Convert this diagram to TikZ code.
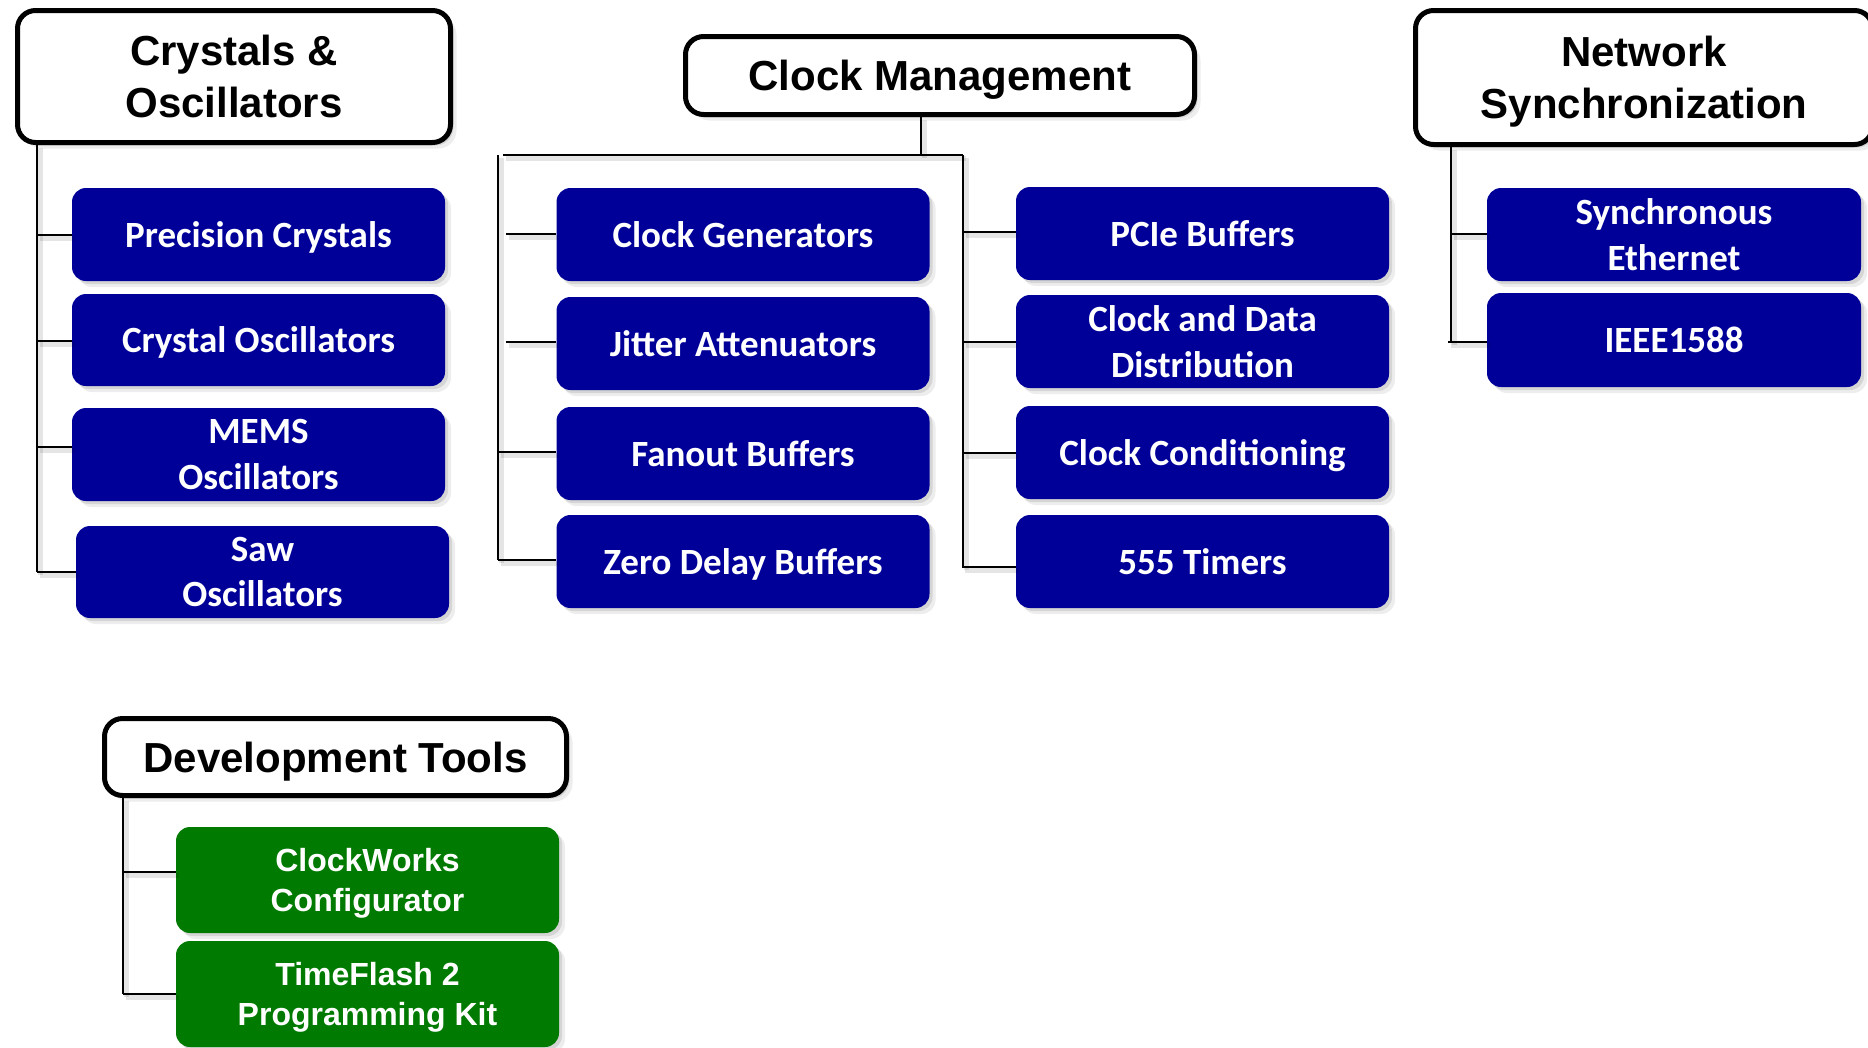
\documentclass[tikz,border=0pt]{standalone}
\usepackage{fontspec}
\setmainfont{Liberation Sans}
\newfontfamily\calibri{Carlito}
\usetikzlibrary{shadows}
\definecolor{boxblue}{RGB}{0,0,153}
\definecolor{boxgreen}{RGB}{0,122,0}
\tikzset{
  softshadow/.style={
    general shadow={fill=black,opacity=0.10,shadow xshift=3pt,shadow yshift=-3pt},
    general shadow={fill=black,opacity=0.07,shadow xshift=6pt,shadow yshift=-6pt}},
  header/.style={draw=black, line width=5pt, fill=white, rounded corners=18pt,
    align=center, font=\bfseries\fontsize{42}{51.5}\selectfont, inner sep=0pt, softshadow},
  bluebox/.style={fill=boxblue, text=white, rounded corners=14pt, align=center,
    font=\calibri\bfseries\fontsize{37}{45.5}\selectfont, inner sep=0pt,
    minimum width=373pt, softshadow},
  greenbox/.style={fill=boxgreen, text=white, rounded corners=14pt, align=center,
    font=\bfseries\fontsize{32}{40}\selectfont, inner sep=0pt,
    minimum width=383pt, minimum height=106pt, softshadow},
  oneline/.style={text depth=0pt},
  link/.style={draw=black, line width=2.2pt,
    preaction={draw=black, opacity=0.10, line width=5pt, transform canvas={shift={(3pt,-3pt)}}}},
}
\begin{document}
\begin{tikzpicture}[x=1pt,y=-1pt]
\useasboundingbox (0,0) rectangle (1868,1047);
\clip (0,0) rectangle (1868,1047);

% ---------- headers ----------
\node[header, minimum width=433pt, minimum height=132pt] (crys) at (234,76.5) {Crystals \&\\\smash{Oscillators}};
\node[header, oneline, minimum width=509pt, minimum height=78pt] (clk) at (940,75.5) {Clock Management};
\node[header, minimum width=457pt, minimum height=134pt] (net) at (1644,77.5) {Network\\\smash{Synchronization}};
\node[header, oneline, minimum width=462pt, minimum height=77pt] (dev) at (335.5,757) {Development Tools};

% ---------- column 1 ----------
\node[bluebox, oneline, minimum height=93pt] (pc) at (258.5,234.5) {Precision Crystals};
\node[bluebox, oneline, minimum height=92pt] (co) at (258.5,340) {Crystal Oscillators};
\node[bluebox, minimum height=93pt] (mems) at (258.5,454.5) {MEMS\\\smash{Oscillators}};
\node[bluebox, minimum height=92pt] (saw) at (262.5,572) {Saw\\\smash{Oscillators}};

% ---------- column 2 ----------
\node[bluebox, oneline, minimum height=93pt] (cg) at (743,234.5) {Clock Generators};
\node[bluebox, oneline, minimum height=93pt] (ja) at (743,343.5) {Jitter Attenuators};
\node[bluebox, oneline, minimum height=93pt] (fb) at (743,453.5) {Fanout Buffers};
\node[bluebox, oneline, minimum height=93pt] (zd) at (743,561.5) {Zero Delay Buffers};

% ---------- column 3 ----------
\node[bluebox, oneline, minimum height=93pt] (pcie) at (1202.5,233.5) {PCIe Buffers};
\node[bluebox, minimum height=93pt] (cdd) at (1202.5,341.5) {Clock and Data\\\smash{Distribution}};
\node[bluebox, oneline, minimum height=93pt] (cc) at (1202.5,452.5) {Clock Conditioning};
\node[bluebox, oneline, minimum height=93pt] (t555) at (1202.5,561.5) {555 Timers};

% ---------- network ----------
\node[bluebox, minimum width=374pt, minimum height=93pt] (se) at (1674,234.5) {Synchronous\\\smash{Ethernet}};
\node[bluebox, oneline, minimum width=374pt, minimum height=94pt] (ieee) at (1674,340) {IEEE1588};

% ---------- development tools ----------
\node[greenbox] (cw) at (367.5,880) {ClockWorks\\\smash{Configurator}};
\node[greenbox] (tf) at (367.5,994) {TimeFlash 2\\\smash{Programming Kit}};

% ---------- connectors: crystals ----------
\coordinate (cEnd) at (37,572);
\draw[link] (crys.south -| cEnd) -- (cEnd);
\draw[link] (37,235) -- (pc.west |- 0,235);
\draw[link] (37,341) -- (co.west |- 0,341);
\draw[link] (37,447) -- (mems.west |- 0,447);
\draw[link] (cEnd) -- (saw.west |- cEnd);

% ---------- connectors: clock management ----------
\coordinate (cmJ) at (921,155);
\coordinate (cmL) at (498,155);
\coordinate (cmH) at (503,155);
\coordinate (cmR) at (963,155);
\draw[link] (clk.south -| cmJ) -- (cmJ);
\draw[link] (cmH) -- (cmR);
\draw[link] (cmL) -- (498,560);
\draw[link] (cmR) -- (963,567);
\coordinate (g1) at (506,234);
\coordinate (g2) at (506,342);
\draw[link] (g1) -- (cg.west |- g1);
\draw[link] (g2) -- (ja.west |- g2);
\draw[link] (498,452) -- (fb.west |- 0,452);
\draw[link] (498,560) -- (zd.west |- 0,560);
\draw[link] (963,232) -- (pcie.west |- 0,232);
\draw[link] (963,342) -- (cdd.west |- 0,342);
\draw[link] (963,453) -- (cc.west |- 0,453);
\draw[link] (962,567) -- (t555.west |- 0,567);

% ---------- connectors: network ----------
\coordinate (nEnd) at (1451,342);
\draw[link] (net.south -| nEnd) -- (nEnd);
\draw[link] (1451,234) -- (se.west |- 0,234);
\draw[link] (1448,342) -- (ieee.west |- nEnd);

% ---------- connectors: development tools ----------
\coordinate (dEnd) at (123,994);
\draw[link] (dev.south -| dEnd) -- (dEnd);
\draw[link] (123,872) -- (cw.west |- 0,872);
\draw[link] (dEnd) -- (tf.west |- dEnd);
\end{tikzpicture}
\end{document}
